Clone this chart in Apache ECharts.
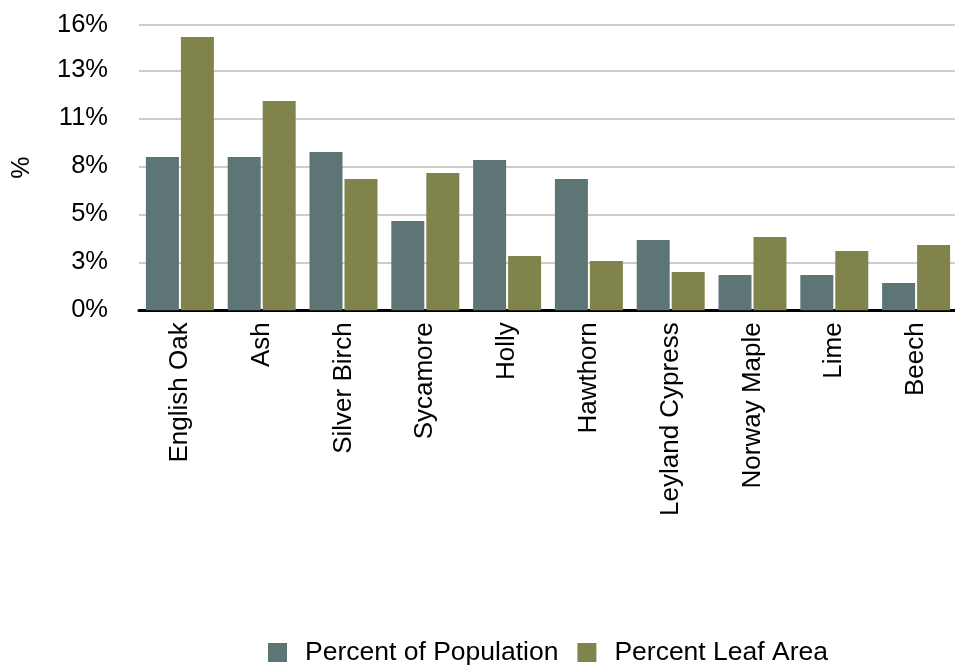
<!DOCTYPE html>
<html>
<head>
<meta charset="utf-8">
<script src="https://cdn.jsdelivr.net/npm/echarts@6/dist/echarts.min.js"></script>
<style>
  html, body { margin: 0; padding: 0; background: #fff; }
  #chart { width: 955px; height: 665px; }
</style>
</head>
<body>
<div id="chart"></div>
<script>
// Tree species and their share of population and leaf area (%)
const species = ['English Oak', 'Ash', 'Silver Birch', 'Sycamore', 'Holly',
  'Hawthorn', 'Leyland Cypress', 'Norway Maple', 'Lime', 'Beech'];
const percentPopulation = [8.52, 8.52, 8.8, 4.96, 8.35, 7.29, 3.91, 1.96, 1.96, 1.52];
const percentLeafArea = [15.18, 11.63, 7.29, 7.63, 3.02, 2.74, 2.13, 4.07, 3.30, 3.63];
const seriesNames = ['Percent of Population', 'Percent Leaf Area'];

const font = 'Liberation Sans, Arial, Helvetica, sans-serif';
const chart = echarts.init(document.getElementById('chart'), null, { renderer: 'canvas' });

chart.setOption({
  animation: false,
  backgroundColor: '#ffffff',
  color: ['#5d7575', '#80834b'],
  grid: {
    left: 139, right: -2, top: 25, bottom: 354.7,
    containLabel: false,
    outerBoundsMode: 'none'
  },
  legend: {
    left: 268,
    top: 639,
    padding: 0,
    itemWidth: 19,
    itemHeight: 19,
    itemGap: 19,
    icon: 'rect',
    textStyle: { fontFamily: font, fontSize: 26.5, color: '#000', padding: [0, 0, 0, 13] },
    data: seriesNames
  },
  xAxis: {
    type: 'category',
    data: species,
    axisTick: { show: false },
    axisLine: { show: true, lineStyle: { color: '#000', width: 3 } },
    axisLabel: { rotate: 90, margin: 12, fontFamily: font, fontSize: 26, color: '#000', interval: 0 }
  },
  yAxis: {
    type: 'value',
    min: 0,
    max: 15.85,
    interval: 8 / 3,
    name: '%',
    nameLocation: 'middle',
    nameGap: 104,
    nameTextStyle: { fontFamily: font, fontSize: 25, color: '#000' },
    axisLine: { show: false },
    axisTick: { show: false },
    splitLine: { lineStyle: { color: '#bdbdbd', width: 1.5 } },
    axisLabel: {
      margin: 31,
      fontFamily: font,
      fontSize: 25.5,
      color: '#000',
      padding: [4, 0, 0, 0],
      formatter: v => Math.round(v) + '%'
    }
  },
  series: [
    { name: seriesNames[0], type: 'bar', data: percentPopulation, barWidth: 33, barGap: '6%' },
    { name: seriesNames[1], type: 'bar', data: percentLeafArea, barWidth: 33, barGap: '6%' }
  ]
});
</script>
</body>
</html>
